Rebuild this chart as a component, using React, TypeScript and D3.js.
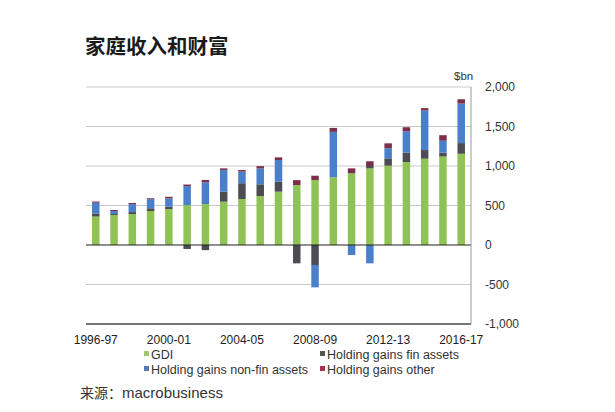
import React from "react";
import * as d3 from "d3";

const years = [
  "1996-97", "1997-98", "1998-99", "1999-00", "2000-01", "2001-02", "2002-03",
  "2003-04", "2004-05", "2005-06", "2006-07", "2007-08", "2008-09", "2009-10",
  "2010-11", "2011-12", "2012-13", "2013-14", "2014-15", "2015-16", "2016-17",
];
const gdi = [360, 380, 392, 430, 455, 505, 518, 548, 582, 620, 675, 759, 823, 857, 907, 970, 1004, 1050, 1092, 1120, 1155];
const finAssets = [40, 12, 25, 35, 30, -50, -65, 127, 200, 148, 126, -232, -253, 0, 0, 30, 93, 120, 110, 50, 135];
const nonFinAssets = [135, 38, 100, 115, 105, 240, 275, 275, 147, 200, 275, 0, -283, 575, -127, -232, 127, 268, 500, 150, 500];
const other = [15, 13, 15, 12, 20, 20, 30, 20, 20, 30, 33, 62, 54, 50, 63, 60, 63, 53, 30, 70, 55];
const yTicks = [-1000, -500, 0, 500, 1000, 1500, 2000];
const xLabelYears = ["1996-97", "2000-01", "2004-05", "2008-09", "2012-13", "2016-17"];

const seriesKeys = ["gdi", "fin", "nonfin", "other"];
const seriesNames = ["GDI", "Holding gains fin assets", "Holding gains non-fin assets", "Holding gains other"];
const colors = ["#8fc356", "#4b4d52", "#4a7fcb", "#7b2f4c"];
const legendColors = ["#9dc96b", "#555555", "#5a78b8", "#a8344f"];

export default function App() {
  const left = 86, right = 471, top = 87, bottom = 324;
  const x = d3.scaleBand<string>().domain(years).range([left, right]).paddingInner(0.59).paddingOuter(0.33);
  const y = d3.scaleLinear().domain([-1000, 2000]).range([bottom, top]);

  const rows = years.map((yr, i) => ({
    year: yr,
    gdi: gdi[i],
    fin: finAssets[i],
    nonfin: nonFinAssets[i],
    other: other[i],
  }));
  const stack = d3.stack<any>().keys(seriesKeys).offset(d3.stackOffsetDiverging);
  const series = stack(rows);

  const fmt = (v: number) => d3.format(",")(v).replace("\u2212", "-");
  const font = "'Liberation Sans', Arial, sans-serif";

  return (
    <svg width={615} height={412} style={{ position: "absolute", left: 0, top: 0, background: "#fff" }}>
      <rect x={0} y={0} width={615} height={412} fill="#ffffff" />
      <text x={85} y={54} fontFamily="'Noto Sans CJK SC', sans-serif" fontSize={20.5} fontWeight={700} fill="#1a1a1a">
        家庭收入和财富
      </text>
      {/* gridlines */}
      {yTicks.filter((t) => t !== 0 && t !== -1000).map((t) => (
        <line key={t} x1={left} x2={right} y1={y(t)} y2={y(t)} stroke="#c9c9c9" strokeWidth={1} />
      ))}
      {/* bars */}
      {series.map((s, si) =>
        s.map((d, i) => (
          <rect
            key={si + "-" + i}
            x={x(years[i])}
            width={x.bandwidth()}
            y={y(Math.max(d[0], d[1]))}
            height={Math.abs(y(d[0]) - y(d[1]))}
            fill={colors[si]}
          />
        ))
      )}
      {/* zero line */}
      <line x1={left} x2={right} y1={y(0)} y2={y(0)} stroke="#222" strokeWidth={1.2} />
      {/* bottom axis */}
      <line x1={left} x2={right} y1={y(-1000)} y2={y(-1000)} stroke="#444" strokeWidth={1.5} />
      {/* right axis */}
      <line x1={right} x2={right} y1={y(2000)} y2={y(-1000)} stroke="#999" strokeWidth={1} />
      {/* y tick labels */}
      {yTicks.map((t) => (
        <text key={t} x={485} y={y(t) + 4} fontFamily={font} fontSize={12} fill="#333">
          {fmt(t)}
        </text>
      ))}
      <text x={454} y={80} fontFamily={font} fontSize={11.5} fill="#333">$bn</text>
      {/* x labels */}
      {xLabelYears.map((yr) => (
        <text key={yr} x={(x(yr) as number) + x.bandwidth() / 2} y={344} textAnchor="middle" fontFamily={font} fontSize={12} fill="#222">
          {yr}
        </text>
      ))}
      {/* legend */}
      {seriesNames.map((name, i) => {
        const lx = i % 2 === 0 ? 144 : 320;
        const ly = i < 2 ? 354 : 369;
        return (
          <g key={name}>
            <rect x={lx} y={ly - 3} width={5} height={5} fill={legendColors[i]} />
            <text x={lx + 7} y={ly + 4.5} fontFamily={font} fontSize={12.5} fill="#333">
              {name}
            </text>
          </g>
        );
      })}
      <text x={80} y={398} fontFamily="'Noto Sans CJK SC', sans-serif" fontSize={14} fill="#333">
        来源：<tspan fontFamily={font} fontSize={15}>macrobusiness</tspan>
      </text>
    </svg>
  );
}
